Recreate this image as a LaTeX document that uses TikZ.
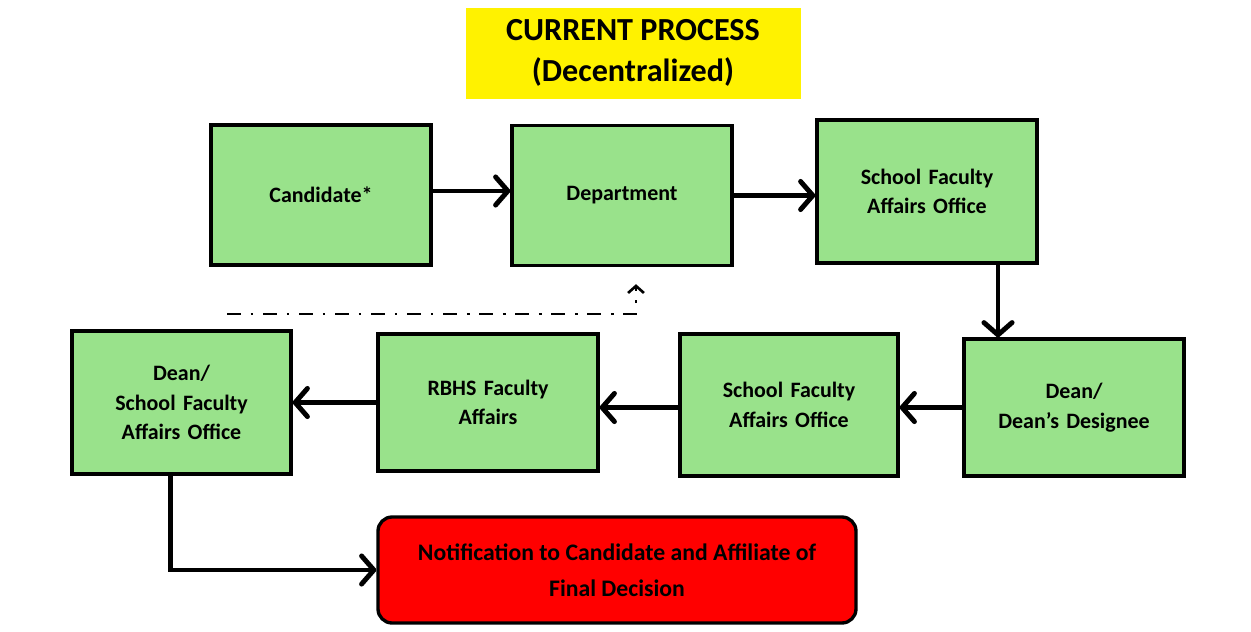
\documentclass[tikz,border=0pt]{standalone}
\usepackage{fontspec}
\setmainfont{Carlito}
\usetikzlibrary{arrows.meta, calc}
\definecolor{boxgreen}{RGB}{153,226,139}
\tikzstyle{stepbox} = [rectangle, draw=black, line width=1.9pt, fill=boxgreen, minimum width=4.4cm, minimum height=2.8cm, text width=4.1cm, align=center, font=\fontsize{12.5}{16.8}\selectfont\bfseries]
\tikzstyle{titlebox} = [rectangle, fill=yellow, minimum width=6.7cm, minimum height=1.82cm, align=center, font=\fontsize{18.3}{23}\selectfont\bfseries]
\tikzstyle{finalbox} = [rectangle, rounded corners=8pt, draw=black, line width=1.9pt, fill=red, minimum width=9.56cm, minimum height=2.12cm, align=center, font=\fontsize{13.5}{20.5}\selectfont\bfseries]
\tikzstyle{arrow} = [line width=2.8pt, -{Straight Barb[length=7pt, width=16pt, line cap=round, line join=round]}]
\tikzstyle{backarrow} = [line width=1.5pt, dash pattern=on 8pt off 5.5pt on 1.5pt off 5.5pt, -{Straight Barb[length=4pt, width=9pt]}]

\begin{document}
\begin{tikzpicture}
            \useasboundingbox (0,0) rectangle (25.02,-12.64);
            \node [titlebox] at (12.66,-1.06) (title) {CURRENT PROCESS\\(Decentralized)};
            \node [stepbox] at (6.42,-3.9) (cand) {Candidate*};
            \node [stepbox] at (12.44,-3.91) (dept) {Department};
            \node [stepbox, minimum height=2.86cm] at (18.54,-3.83) (sfao1) {School Faculty\\Affairs Office};
            \node [stepbox, minimum height=2.74cm] at (21.48,-8.15) (dean) {Dean/\\Dean’s Designee};
            \node [stepbox, minimum width=4.36cm, minimum height=2.84cm] at (15.78,-8.1) (sfao2) {School Faculty\\Affairs Office};
            \node [stepbox, minimum height=2.74cm] at (9.76,-8.05) (rbhs) {RBHS Faculty\\Affairs};
            \node [stepbox, minimum width=4.38cm, minimum height=2.86cm] at (3.63,-8.05) (deansfao) {Dean/\\School Faculty\\Affairs Office};
            \node [finalbox] at (12.34,-11.4) (final) {Notification to Candidate and Affiliate of\\Final Decision};
            \coordinate (loopstart) at (4.54,-6.28);

            \draw [arrow] ([yshift=0.08cm]cand.east) -- ([yshift=0.08cm]cand.east -| dept.west);
            \draw [arrow] (dept.east) -- (dept.east -| sfao1.west);
            \draw [arrow] ([xshift=1.42cm]sfao1.south) -- ([xshift=1.42cm]sfao1.south |- dean.north);
            \draw [arrow] (dean.west) -- (dean.west -| sfao2.east);
            \draw [arrow] ([yshift=-0.05cm]sfao2.west) -- ([yshift=-0.05cm]sfao2.west -| rbhs.east);
            \draw [arrow] (rbhs.east |- deansfao.east) ++(-4.4,0) -- (deansfao.east);
            \draw [arrow] ([xshift=-0.22cm]deansfao.south) |- (final.west);
            \draw [backarrow] (loopstart) -| ([xshift=0.28cm, yshift=-0.34cm]dept.south);
\end{tikzpicture}
\end{document}
